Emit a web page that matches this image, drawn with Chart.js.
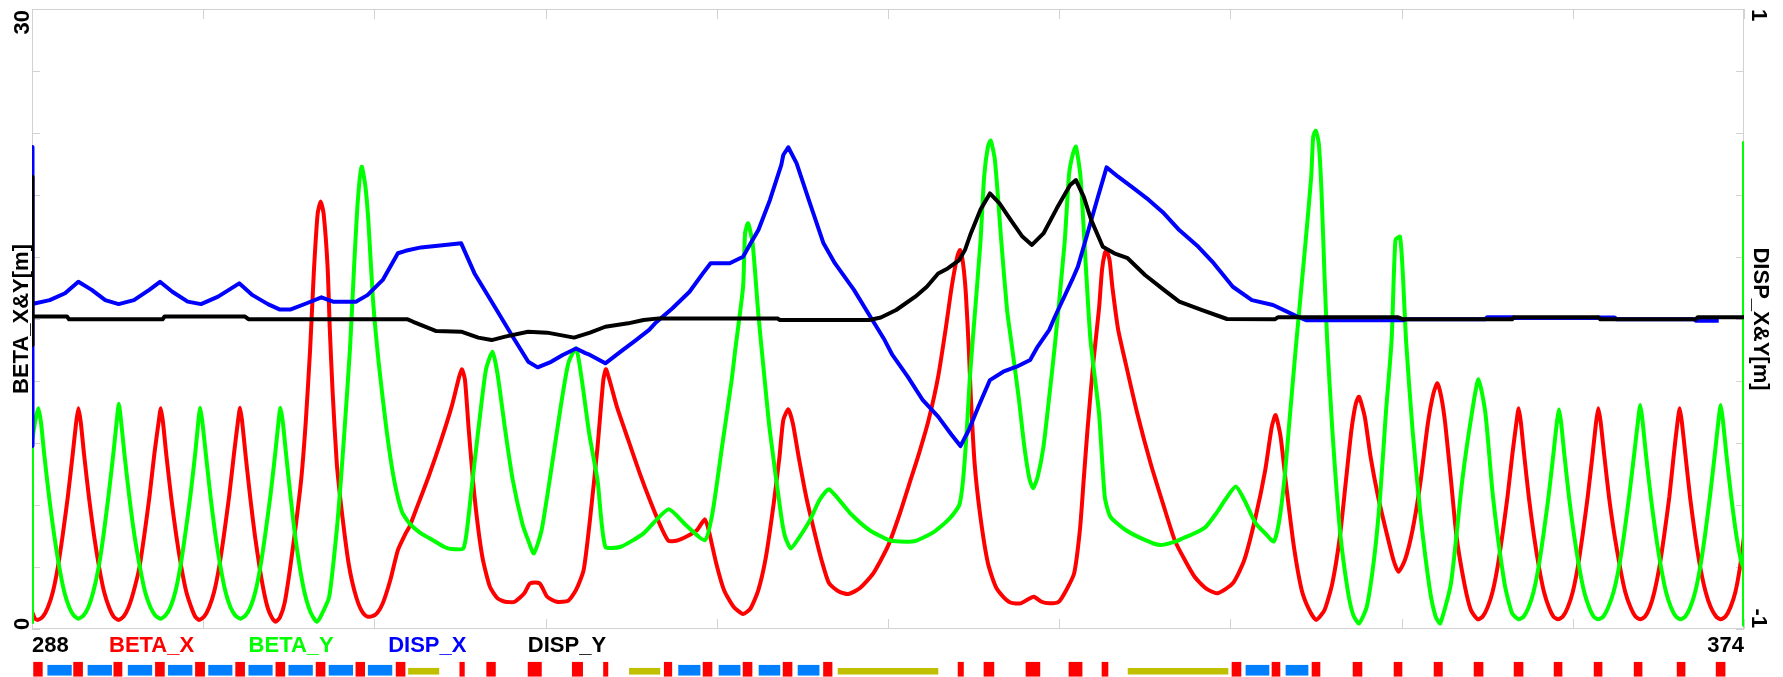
<!DOCTYPE html>
<html>
<head>
<meta charset="utf-8">
<script src="https://cdn.jsdelivr.net/npm/chart.js@4.4.1/dist/chart.umd.min.js"></script>
<style>
  html, body { margin: 0; padding: 0; background: #fff; }
  #wrap { position: relative; width: 1783px; height: 677px; overflow: hidden; }
  #optics { position: absolute; left: 0; top: 0; }
  #lattice { position: absolute; left: 32px; top: 660px; }
</style>
</head>
<body>
<div id="wrap">
  <canvas id="optics" width="1783" height="660"></canvas>
  <canvas id="lattice" width="1712" height="17"></canvas>
</div>
<script>
// axis ticks (tick marks everywhere, numbers only at the ends)
const sTicks = [288, 296.6, 305.2, 313.8, 322.4, 331, 339.6, 348.2, 356.8, 365.4, 374];
const sLabels = ['288', '374'];
const betaTicks = [0, 3, 6, 9, 12, 15, 18, 21, 24, 27, 30];
const betaLabels = ['0', '30'];
const dispTicks = [-1, -0.8, -0.6, -0.4, -0.2, 0, 0.2, 0.4, 0.6, 0.8, 1];
const dispLabels = ['-1', '1'];

// [s, beta_x] in m
const betaX = [
  [288.0,0.84],[288.15,0.5],[288.3,0.44],[288.55,0.6],[288.8,1.05],[289.05,1.8],[289.3,3.0],[289.55,4.6],[289.8,6.4],[290.05,8.5],[290.22,10.0],[290.33,10.68],
  [290.45,10.0],[290.62,8.4],[290.87,6.3],[291.12,4.5],[291.37,3.0],[291.62,1.8],[291.87,1.05],[292.1,0.6],[292.35,0.44],
  [292.6,0.6],[292.85,1.05],[293.1,1.8],[293.4,3.0],[293.65,4.6],[293.9,6.4],[294.15,8.5],[294.36,10.0],[294.47,10.68],
  [294.58,10.0],[294.75,8.4],[295.0,6.3],[295.25,4.5],[295.5,3.0],[295.75,1.8],[296.0,1.05],[296.2,0.6],[296.39,0.44],
  [296.65,0.6],[296.9,1.05],[297.15,1.8],[297.4,3.0],[297.65,4.6],[297.9,6.4],[298.15,8.5],[298.34,10.0],[298.45,10.7],
  [298.56,10.0],[298.73,8.4],[298.97,6.3],[299.2,4.5],[299.43,3.0],[299.65,1.8],[299.85,1.0],[300.05,0.55],[300.23,0.35],
  [300.45,0.55],[300.7,1.3],[300.96,2.9],[301.25,5.0],[301.53,7.3],[301.75,10.0],[301.97,13.5],[302.16,17.3],[302.35,20.1],[302.5,20.68],
  [302.65,20.1],[302.85,17.5],[302.96,14.5],[303.1,11.5],[303.31,8.0],[303.5,6.2],[303.7,4.6],[303.9,3.2],[304.08,2.3],[304.3,1.5],
  [304.47,1.05],[304.65,0.75],[304.85,0.6],[305.1,0.62],[305.33,0.76],[305.62,1.24],[306.0,2.37],[306.38,3.82],[306.77,4.63],[306.96,4.95],
  [307.35,5.92],[307.92,7.37],[308.5,8.98],[309.08,10.76],[309.46,12.21],[309.6,12.56],[309.75,12.05],[309.94,9.63],[310.23,6.4],[310.62,3.5],
  [311.0,2.05],[311.39,1.48],[311.77,1.32],[312.25,1.32],[312.73,1.73],[313.02,2.21],[313.5,2.21],[313.88,1.56],[314.36,1.32],[314.94,1.37],
  [315.33,1.89],[315.71,2.85],[316.03,5.3],[316.41,8.82],[316.7,12.05],[316.84,12.56],[317.38,10.76],[317.95,9.15],[318.53,7.53],[319.1,6.08],
  [319.59,4.95],[319.97,4.27],[320.36,4.27],[320.93,4.5],[321.41,4.79],[321.8,5.31],[321.99,4.79],[322.37,3.18],[322.76,1.89],[323.24,1.08],
  [323.72,0.73],[324.1,1.0],[324.49,1.89],[324.87,3.5],[325.26,6.08],[325.55,8.34],[325.74,10.11],[325.99,10.63],[326.22,9.95],[326.51,8.34],
  [326.89,6.4],[327.28,4.79],[327.66,3.34],[328.04,2.21],[328.53,1.81],[329.01,1.69],[329.58,1.97],[330.26,2.69],[331.02,4.06],[331.6,5.6],
  [332.08,7.05],[332.56,8.5],[333.04,10.11],[333.52,12.21],[333.91,14.6],[334.2,16.56],[334.48,18.02],[334.62,18.34],[334.77,17.69],[334.91,16.24],
  [335.06,13.53],[335.16,11.24],[335.35,8.02],[335.64,5.44],[336.02,3.18],[336.41,2.05],[336.79,1.56],[337.18,1.27],[337.66,1.24],[338.04,1.44],
  [338.33,1.56],[338.71,1.32],[339.1,1.24],[339.58,1.32],[339.96,1.89],[340.35,2.69],[340.64,4.79],[340.83,7.21],[341.02,9.63],[341.31,12.85],
  [341.6,15.5],[341.75,17.37],[341.89,18.18],[341.98,18.31],[342.13,17.85],[342.27,16.56],[342.56,14.5],[342.94,12.85],[343.52,10.44],[344.19,8.02],
  [344.86,5.92],[345.4,4.3],[345.82,3.5],[346.4,2.53],[346.97,1.97],[347.55,1.73],[348.32,2.21],[348.9,3.34],[349.47,5.44],[349.95,7.69],
  [350.28,9.79],[350.47,10.35],[350.72,9.31],[351.01,6.89],[351.39,3.98],[351.78,1.89],[352.16,0.92],[352.51,0.44],[352.93,0.92],[353.32,2.21],
  [353.7,4.47],[353.99,7.05],[354.28,9.63],[354.5,10.9],[354.66,11.24],[354.95,10.27],[355.24,8.34],[355.62,6.4],[356.01,4.79],[356.39,3.34],
  [356.64,2.77],[356.97,3.34],[357.35,4.79],[357.74,7.05],[358.12,9.95],[358.4,11.4],[358.6,11.89],[358.8,11.2],[358.99,9.95],[359.28,7.21],
  [359.56,4.47],[359.95,2.21],[360.28,0.92],[360.62,0.47],
  [360.87,0.6],[361.12,1.05],[361.37,1.8],[361.62,3.0],[361.87,4.6],[362.12,6.4],[362.37,8.5],[362.57,10.0],[362.68,10.68],
  [362.79,10.0],[362.96,8.4],[363.2,6.3],[363.45,4.5],[363.7,3.0],[363.95,1.8],[364.2,1.05],[364.43,0.6],[364.66,0.47],
  [364.9,0.6],[365.15,1.05],[365.4,1.8],[365.65,3.0],[365.9,4.6],[366.15,6.4],[366.4,8.5],[366.57,10.0],[366.68,10.68],
  [366.8,10.0],[366.98,8.4],[367.23,6.3],[367.5,4.5],[367.77,3.0],[368.03,1.8],[368.3,1.05],[368.55,0.6],[368.79,0.47],
  [369.03,0.6],[369.27,1.05],[369.5,1.8],[369.75,3.0],[370.0,4.6],[370.25,6.4],[370.48,8.5],[370.66,10.0],[370.77,10.68],
  [370.88,10.0],[371.06,8.4],[371.3,6.3],[371.55,4.5],[371.8,3.0],[372.07,1.8],[372.33,1.05],[372.6,0.6],[372.83,0.47],
  [373.07,0.6],[373.32,1.05],[373.57,1.8],[373.8,3.0],[374.0,4.47]
];

// [s, beta_y] in m
const betaY = [
  [288.0,0.25],[288.0,8.9],[288.15,10.0],[288.32,10.68],[288.45,10.0],[288.62,8.4],[288.87,6.3],[289.12,4.5],[289.37,3.0],[289.62,1.8],[289.87,1.05],[290.1,0.65],[290.33,0.5],
  [290.58,0.65],[290.83,1.05],[291.08,1.8],[291.35,3.0],[291.6,4.6],[291.85,6.5],[292.1,8.6],[292.26,10.1],[292.36,10.9],
  [292.47,10.1],[292.65,8.4],[292.9,6.3],[293.15,4.5],[293.42,3.0],[293.68,1.8],[293.95,1.05],[294.2,0.65],[294.47,0.5],
  [294.7,0.65],[294.95,1.05],[295.2,1.8],[295.45,3.0],[295.7,4.6],[295.95,6.4],[296.2,8.5],[296.35,10.0],[296.45,10.7],
  [296.56,10.0],[296.74,8.4],[296.98,6.3],[297.22,4.5],[297.47,3.0],[297.72,1.8],[297.97,1.05],[298.22,0.65],[298.47,0.5],
  [298.72,0.65],[298.97,1.05],[299.22,1.8],[299.47,3.0],[299.72,4.6],[299.97,6.4],[300.22,8.5],[300.38,10.0],[300.48,10.7],
  [300.6,10.0],[300.77,8.4],[301.0,6.3],[301.22,4.5],[301.45,3.0],[301.68,1.8],[301.9,1.05],[302.1,0.6],[302.31,0.35],
  [302.55,0.7],[302.93,1.56],[303.31,4.79],[303.5,7.0],[303.7,9.63],[303.98,13.66],[304.18,17.53],[304.37,20.76],[304.56,22.37],
  [304.75,21.4],[304.9,19.7],[305.13,15.92],[305.42,12.85],[305.81,9.63],[306.19,7.21],[306.58,5.68],[306.96,5.11],[307.54,4.63],[308.12,4.31],
  [308.69,3.98],[309.08,3.87],[309.66,3.9],[309.85,4.79],[310.13,7.21],[310.42,9.63],[310.8,12.53],[311.13,13.42],[311.38,12.37],[311.77,9.63],
  [312.15,7.21],[312.63,5.11],[312.92,4.31],[313.21,3.66],[313.6,4.79],[314.08,7.69],[314.56,10.76],[314.94,12.85],[315.33,13.58],[315.62,12.05],
  [316.0,9.4],[316.41,7.2],[316.8,3.98],[317.57,3.98],[318.72,4.63],[319.97,5.79],[320.84,5.03],[321.8,4.3],[322.18,5.6],[322.66,8.8],
  [323.14,12.0],[323.33,13.53],[323.72,16.56],[323.82,19.15],[323.97,19.63],[324.2,18.66],[324.49,15.2],[324.78,12.3],[325.06,9.63],[325.64,5.43],
  [325.83,4.47],[326.12,3.9],[326.51,4.39],[327.08,5.27],[327.56,6.24],[328.04,6.76],[329.1,5.6],[330.06,4.79],[331.02,4.31],[331.6,4.23],
  [332.37,4.26],[333.33,4.71],[334.1,5.35],[334.58,6.0],[334.77,7.2],[334.96,9.63],[335.1,12.0],[335.25,13.9],[335.64,18.66],[335.83,21.89],
  [336.02,23.34],[336.16,23.63],[336.37,22.69],[336.7,18.66],[336.98,15.44],[337.18,14.0],[337.56,11.24],[337.85,8.82],[338.1,7.29],[338.29,6.81],
  [338.52,7.37],[338.81,8.82],[339.1,11.24],[339.39,13.8],[339.87,18.66],[340.1,22.05],[340.29,23.0],[340.44,23.34],[340.67,21.89],[340.92,17.85],
  [341.17,14.0],[341.6,10.44],[341.89,6.4],[342.17,5.44],[342.94,4.79],[343.9,4.31],[344.67,4.06],[345.44,4.23],[345.82,4.39],[346.4,4.63],
  [346.97,4.95],[347.55,5.68],[347.93,6.24],[348.47,6.89],[348.9,6.24],[349.47,5.11],[349.95,4.63],[350.38,4.23],[350.63,5.11],[350.91,7.21],
  [351.2,10.44],[351.49,13.66],[351.97,18.66],[352.26,21.89],[352.36,23.82],[352.49,24.11],[352.64,23.5],[352.78,21.08],[352.93,17.05],[353.06,14.0],
  [353.32,9.63],[353.7,4.79],[354.09,1.89],[354.37,0.68],[354.66,0.27],[355.05,1.08],[355.43,3.5],[355.72,6.4],[356.01,10.44],[356.3,14.0],
  [356.49,18.82],[356.72,18.98],[356.87,17.05],[357.02,14.0],[357.35,9.63],[357.74,5.6],[358.22,1.89],[358.51,0.6],[358.74,0.27],[359.28,2.21],
  [359.85,7.21],[360.33,10.44],[360.66,12.08],[361.01,10.44],[361.39,6.4],[361.97,2.21],[362.35,0.76],[362.68,0.47],
  [362.93,0.6],[363.18,1.05],[363.43,1.8],[363.68,3.0],[363.93,4.6],[364.18,6.4],[364.43,8.5],[364.6,10.0],[364.7,10.63],
  [364.81,10.0],[364.98,8.4],[365.22,6.3],[365.47,4.5],[365.72,3.0],[365.97,1.8],[366.22,1.05],[366.45,0.6],[366.68,0.47],
  [366.93,0.6],[367.18,1.05],[367.45,1.8],[367.72,3.0],[367.98,4.6],[368.24,6.5],[368.5,8.6],[368.68,10.1],[368.79,10.84],
  [368.9,10.1],[369.08,8.4],[369.33,6.3],[369.58,4.5],[369.83,3.0],[370.08,1.8],[370.33,1.05],[370.58,0.6],[370.81,0.47],
  [371.05,0.6],[371.3,1.05],[371.55,1.8],[371.8,3.0],[372.05,4.6],[372.3,6.5],[372.55,8.6],[372.72,10.1],[372.83,10.84],
  [372.94,10.1],[373.12,8.4],[373.37,6.3],[373.62,4.5],[373.85,3.3],[374.0,2.85],[374.0,0.2],[374.0,23.6]
];

// [s, disp_x] in m
const dispX = [
  [288.0,-0.41],[288.0,0.555],[288.05,0.05],[288.12,0.05],[288.89,0.061],[289.66,0.083],[290.33,0.12],[291.0,0.094],[291.68,0.061],[292.35,0.048],
  [293.12,0.061],[293.89,0.094],[294.43,0.12],[295.05,0.088],[295.82,0.056],[296.49,0.048],[297.35,0.072],[298.41,0.115],[299.08,0.077],[299.85,0.048],
  [300.43,0.031],[301.0,0.031],[301.77,0.05],[302.54,0.07],[303.12,0.056],[304.27,0.056],[304.85,0.077],[305.62,0.126],[306.38,0.212],[306.77,0.22],
  [307.54,0.231],[308.5,0.237],[309.56,0.244],[310.23,0.147],[311.19,0.045],[312.15,-0.057],[312.93,-0.138],[313.4,-0.156],[314.08,-0.138],[314.66,-0.116],
  [315.33,-0.095],[315.8,-0.11],[316.03,-0.116],[316.8,-0.143],[317.57,-0.105],[318.34,-0.068],[319.0,-0.035],[319.3,-0.014],[320.16,0.034],[321.03,0.088],
  [321.7,0.147],[322.09,0.18],[323.05,0.18],[323.72,0.201],[324.1,0.244],[324.49,0.287],[325.07,0.384],[325.64,0.497],[325.74,0.529],[325.99,0.554],
  [326.41,0.502],[327.08,0.373],[327.76,0.244],[328.33,0.18],[329.29,0.094],[330.06,0.013],[330.83,-0.068],[331.22,-0.116],[331.99,-0.186],[332.75,-0.262],
  [333.52,-0.315],[334.2,-0.374],[334.64,-0.41],[335.06,-0.358],[335.54,-0.283],[336.12,-0.197],[336.79,-0.17],[337.46,-0.154],[338.14,-0.132],[338.52,-0.089],
  [339.1,-0.035],[339.39,0.008],[340.25,0.126],[340.54,0.169],[341.02,0.276],[341.5,0.384],[341.98,0.489],[342.56,0.459],[343.33,0.422],[344.1,0.384],
  [344.86,0.341],[345.63,0.287],[346.59,0.233],[347.36,0.18],[348.32,0.104],[349.28,0.061],[350.34,0.045],[351.49,0.01],[352.0,-0.004],[356.9,-0.004],
  [357.0,-0.001],[361.0,-0.001],[361.1,0.006],[362.4,0.006],[362.5,0.003],[366.6,0.003],[366.7,0.005],[367.5,0.005],[367.6,-0.001],[371.5,-0.001],
  [371.6,-0.006],[372.73,-0.006]
];

// [s, disp_y] in m
const dispY = [
  [288.0,0.458],[288.0,-0.084],[288.05,0.008],[289.76,0.008],[289.86,-0.001],[294.56,-0.001],[294.66,0.008],[298.7,0.008],[298.89,-0.001],[306.87,-0.001],
  [307.15,-0.009],[308.31,-0.039],[309.56,-0.041],[310.42,-0.06],[311.09,-0.068],[311.77,-0.057],[312.92,-0.041],[313.88,-0.044],[315.23,-0.06],[316.03,-0.044],
  [316.8,-0.025],[317.95,-0.014],[318.72,-0.003],[319.49,0.002],[325.45,0.002],[325.55,-0.003],[330.06,-0.003],[330.64,0.005],[331.41,0.029],[332.37,0.072],
  [332.95,0.104],[333.52,0.147],[334.0,0.163],[334.58,0.19],[334.87,0.223],[335.16,0.276],[335.64,0.352],[336.12,0.405],[336.6,0.373],[337.17,0.319],
  [337.75,0.266],[338.23,0.239],[338.81,0.276],[339.48,0.357],[340.15,0.432],[340.44,0.448],[340.83,0.395],[341.21,0.319],[341.79,0.233],[342.37,0.212],
  [343.04,0.196],[343.91,0.142],[344.86,0.094],[345.63,0.056],[346.78,0.029],[348.03,0.0],[350.43,-0.001],[350.6,0.006],[356.6,0.006],[356.87,-0.001],
  [362.35,-0.001],[362.45,0.006],[366.68,0.006],[366.78,-0.001],[371.58,-0.001],[371.68,0.006],[374.0,0.006]
];

// lattice elements along s: [start, end]
const quads = [
  [288.08,288.52],[290.09,290.54],[292.11,292.52],[294.2,294.65],[296.21,296.67],[298.23,298.68],[300.25,300.7],[302.27,302.72],
  [304.27,304.71],[306.29,306.74],[309.49,309.72],[310.84,311.28],[312.92,313.59],[315.14,315.66],[316.71,316.93],[319.76,320.14],
  [321.71,322.16],[323.72,324.17],[325.73,326.18],[327.76,328.19],[334.52,334.79],[335.82,336.32],[337.93,338.63],[340.09,340.75],
  [341.75,342.05],[348.28,348.73],[350.29,350.69],[352.3,352.7],[354.36,354.81],[356.42,356.82],[358.43,358.85],[360.44,360.89],
  [362.45,362.9],[364.46,364.86],[366.47,366.87],[368.48,368.88],[370.64,371.04],[372.6,373.05]
];
const bends = [
  [288.79,289.98],[290.81,292.0],[292.83,294.02],[294.85,296.04],[296.87,298.05],[298.89,300.07],[300.9,302.09],[302.92,304.11],
  [304.89,306.08],[320.48,321.56],[322.51,323.57],[324.52,325.57],[326.48,327.54],[348.98,350.14],[350.99,352.1]
];
const others = [[306.91,308.44],[318.01,319.54],[328.49,333.51],[343.06,348.08]];

const FONT = { family: '"Liberation Sans", Arial, Helvetica, sans-serif', size: 22, weight: 'bold' };
const FONT_CSS = 'bold 22px "Liberation Sans", Arial, Helvetica, sans-serif';

const toPoints = rows => rows.map(r => ({ x: r[0], y: r[1] }));

function turned(ctx, text, x, y, angle, align) {
  ctx.save();
  ctx.translate(x, y);
  ctx.rotate(angle);
  ctx.textAlign = align;
  ctx.textBaseline = 'alphabetic';
  ctx.fillText(text, 0, 0);
  ctx.restore();
}

// frame, inward tick marks, turned end labels and the coloured legend row
const decorations = {
  id: 'decorations',
  beforeDatasetsDraw(chart) {
    const { ctx, chartArea: a, scales } = chart;
    ctx.save();
    ctx.strokeStyle = '#d2d2d2';
    ctx.lineWidth = 1;
    ctx.strokeRect(a.left + 0.5, a.top + 0.5, a.right - a.left - 1, a.bottom - a.top - 1);
    ctx.beginPath();
    scales.x.ticks.forEach(t => {
      const px = Math.round(scales.x.getPixelForValue(t.value)) + 0.5;
      ctx.moveTo(px, a.top); ctx.lineTo(px, a.top + 10);
      ctx.moveTo(px, a.bottom); ctx.lineTo(px, a.bottom - 10);
    });
    scales.y.ticks.forEach(t => {
      const py = Math.round(scales.y.getPixelForValue(t.value)) + 0.5;
      ctx.moveTo(a.left, py); ctx.lineTo(a.left + 8, py);
    });
    scales.y2.ticks.forEach(t => {
      const py = Math.round(scales.y2.getPixelForValue(t.value)) + 0.5;
      ctx.moveTo(a.right, py); ctx.lineTo(a.right - 8, py);
    });
    ctx.stroke();
    ctx.restore();
  },
  afterDraw(chart) {
    const { ctx, chartArea: a, scales } = chart;
    ctx.save();
    ctx.font = FONT_CSS;
    ctx.fillStyle = '#000';
    const yl = scales.y, yr = scales.y2;
    turned(ctx, betaLabels[0], a.left - 3.5, yl.getPixelForValue(betaTicks[0]) + 1, -Math.PI / 2, 'left');
    turned(ctx, betaLabels[1], a.left - 3.5, yl.getPixelForValue(betaTicks[betaTicks.length - 1]) + 1, -Math.PI / 2, 'right');
    turned(ctx, dispLabels[0], a.right + 8, yr.getPixelForValue(dispTicks[0]) - 1, Math.PI / 2, 'right');
    turned(ctx, dispLabels[1], a.right + 8, yr.getPixelForValue(dispTicks[dispTicks.length - 1]), Math.PI / 2, 'left');
    ctx.textAlign = 'left';
    ctx.textBaseline = 'alphabetic';
    chart.data.datasets.forEach((ds, i) => {
      ctx.fillStyle = ds.borderColor;
      ctx.fillText(ds.label, 109 + i * 139.6, 652);
    });
    ctx.restore();
  }
};

const line = (label, rows, color, axis, order, tension) => ({
  label, data: toPoints(rows), borderColor: color, backgroundColor: color,
  borderWidth: 4, pointRadius: 0, tension, fill: false, yAxisID: axis, order,
  borderJoinStyle: 'round'
});

new Chart(document.getElementById('optics'), {
  type: 'line',
  data: {
    datasets: [
      line('BETA_X', betaX, '#ff0000', 'y', 4, 0.2),
      line('BETA_Y', betaY, '#00ff00', 'y', 3, 0.2),
      line('DISP_X', dispX, '#0000ff', 'y2', 2, 0),
      line('DISP_Y', dispY, '#000000', 'y2', 1, 0)
    ]
  },
  options: {
    responsive: false,
    animation: false,
    devicePixelRatio: 1,
    events: [],
    layout: { padding: { top: 9, left: 0, right: 0, bottom: 0 } },
    plugins: { legend: { display: false }, tooltip: { enabled: false } },
    scales: {
      x: {
        type: 'linear', min: 288, max: 374, position: 'bottom',
        afterBuildTicks: s => { s.ticks = sTicks.map(v => ({ value: v })); },
        afterFit: s => { s.height = 31; },
        grid: { display: false }, border: { display: false },
        ticks: {
          autoSkip: false, maxRotation: 0, align: 'inner', padding: -4,
          color: '#000', font: FONT,
          callback: (v, i, all) => i === 0 ? sLabels[0] : (i === all.length - 1 ? sLabels[1] : '')
        }
      },
      y: {
        type: 'linear', min: 0, max: 30, position: 'left',
        afterBuildTicks: s => { s.ticks = betaTicks.map(v => ({ value: v })); },
        afterFit: s => { s.width = 32; },
        grid: { display: false }, border: { display: false },
        ticks: { display: false },
        title: { display: true, text: 'BETA_X&Y[m]', color: '#000', font: FONT, padding: { top: 9, bottom: 0 } }
      },
      y2: {
        type: 'linear', min: -1, max: 1, position: 'right',
        afterBuildTicks: s => { s.ticks = dispTicks.map(v => ({ value: v })); },
        afterFit: s => { s.width = 39; },
        grid: { display: false }, border: { display: false },
        ticks: { display: false },
        title: { display: true, text: 'DISP_X&Y[m]', color: '#000', font: FONT, padding: { top: 10, bottom: 0 } }
      }
    }
  },
  plugins: [decorations]
});

// lattice strip: magnets as floating horizontal bars on the same s scale
const magnets = (rows, level) => rows.map(r => ({ x: [r[0], r[1]], y: level }));

new Chart(document.getElementById('lattice'), {
  type: 'bar',
  data: {
    datasets: [
      { label: 'quadrupole', data: magnets(quads, 7), backgroundColor: '#ff0000', barThickness: 14, grouped: false, borderWidth: 0 },
      { label: 'dipole', data: magnets(bends, 5), backgroundColor: '#0080ff', barThickness: 10, grouped: false, borderWidth: 0 },
      { label: 'other', data: magnets(others, 3), backgroundColor: '#c0c000', barThickness: 6, grouped: false, borderWidth: 0 }
    ]
  },
  options: {
    indexAxis: 'y',
    responsive: false,
    animation: false,
    devicePixelRatio: 1,
    events: [],
    layout: { padding: 0 },
    plugins: { legend: { display: false }, tooltip: { enabled: false } },
    scales: {
      x: { type: 'linear', min: 288, max: 374, display: false },
      y: { type: 'linear', min: 0, max: 17, display: false }
    }
  }
});
</script>
</body>
</html>
